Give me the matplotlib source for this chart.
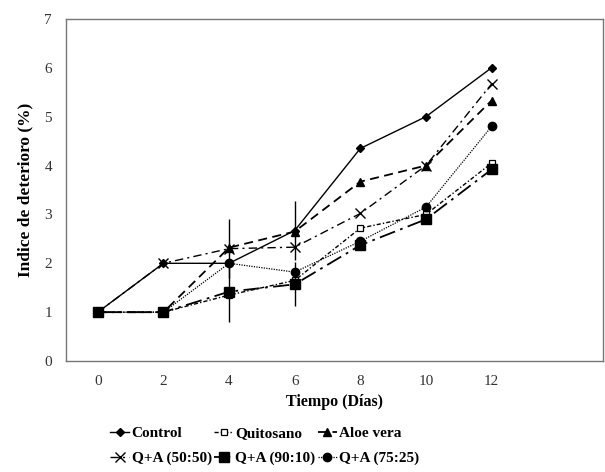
import numpy as np
import matplotlib.pyplot as plt

# ======================== Datos ========================
dias = [0, 2, 4, 6, 8, 10, 12]

control = [1, 2, 2, 2.67, 4.35, 5.0, 6.0]
quitosano = [1, 1, 1.35, 1.65, 2.72, 3.0, 4.05]
aloe = [1, 1, 2.32, 2.65, 3.67, 4.0, 5.33]
qa_50 = [1, 2, 2.3, 2.33, 3.02, 4.0, 5.67]
qa_90 = [1, 1, 1.42, 1.57, 2.37, 2.9, 3.92]
qa_75 = [1, 1, 2.0, 1.82, 2.45, 3.15, 4.8]

err_control = [0, 0, 0, 0.6, 0, 0, 0]
err_qa50 = [0, 0, 0.6, 0, 0, 0, 0]
err_qa90 = [0, 0, 0.62, 0.45, 0, 0, 0]

# ======================== Estilo ========================
plt.rcParams['font.family'] = ['Liberation Serif', 'DejaVu Serif']
plt.rcParams['font.weight'] = 'bold'

fig = plt.figure(figsize=(6.05, 4.72), dpi=100)
ax = fig.add_axes([0.109, 0.235, 0.888, 0.725])

k = 'black'
l1, = ax.plot(dias, control, color=k, lw=1.0, ls='-', marker='D', ms=4.5, label='Control')
l2, = ax.plot(dias, quitosano, color=k, lw=1.0, ls=(0, (3, 1.5, 1, 1.5)), marker='s', ms=4,
              mfc='white', mew=0.9, label='Quitosano')
l3, = ax.plot(dias, aloe, color=k, lw=1.3, ls=(0, (5, 3)), marker='^', ms=5.5, label='Aloe vera')
l4, = ax.plot(dias, qa_50, color=k, lw=1.0, ls=(0, (6, 3, 1.5, 3)), marker='x', ms=7, mew=1.0,
              label='Q+A (50:50)')
l5, = ax.plot(dias, qa_90, color=k, lw=1.3, ls=(0, (9, 3, 1.5, 3)), marker='s', ms=6.5,
              label='Q+A (90:10)')
l6, = ax.plot(dias, qa_75, color=k, lw=0.9, ls=(0, (1, 1)), marker='o', ms=6, label='Q+A (75:25)')

ax.errorbar(dias, control, yerr=err_control, fmt='none', ecolor=k, elinewidth=1.0)
ax.errorbar(dias, qa_50, yerr=err_qa50, fmt='none', ecolor=k, elinewidth=1.0)
ax.errorbar(dias, qa_90, yerr=err_qa90, fmt='none', ecolor=k, elinewidth=1.0)

ax.set_xlim(-0.97, 15.4)
ax.set_ylim(0, 7)
ax.set_xticks(dias)
ax.set_yticks(range(0, 8))
ax.tick_params(axis='x', length=0, labelsize=11, colors='#333333', pad=10)
ax.tick_params(axis='y', length=0, labelsize=11, colors='#333333', pad=10)
for lab in ax.get_xticklabels() + ax.get_yticklabels():
    lab.set_fontweight('normal')
for s in ax.spines.values():
    s.set_color('#777777')
    s.set_linewidth(1.0)

ax.set_xlabel('Tiempo (Días)', fontsize=11.5, fontweight='bold', labelpad=4)
ax.set_ylabel('Indice de deterioro (%)', fontsize=12.5, fontweight='bold', labelpad=8)

# orden por filas
handles = [l1, l4, l2, l5, l3, l6]
ax.legend(handles=handles, labels=[h.get_label() for h in handles],
          loc='upper center', bbox_to_anchor=(0.37, -0.15), ncol=3, frameon=False,
          fontsize=11, handlelength=1.25, columnspacing=0.15, handletextpad=0.15,
          labelspacing=0.75)

fig.savefig('out.png', dpi=100)
